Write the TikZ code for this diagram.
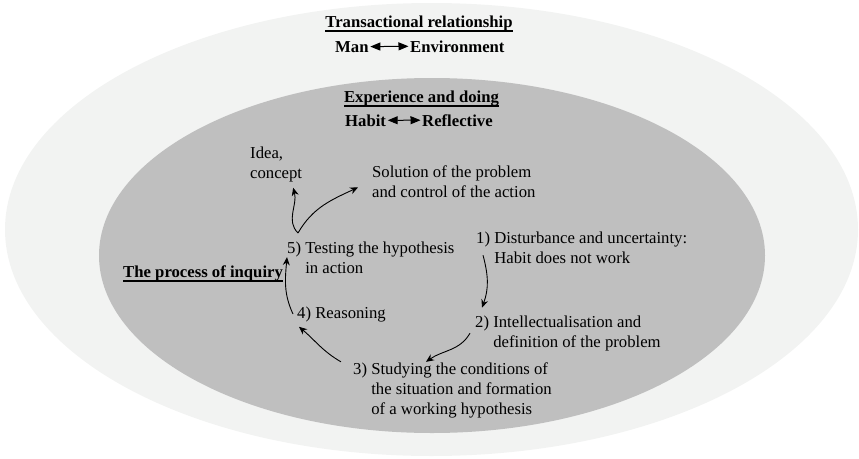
\documentclass[tikz,border=0pt]{standalone}
\usepackage{fontspec}
\setmainfont{Liberation Serif}
\usepackage{xcolor}
\usepackage{tikz}
\usetikzlibrary{arrows.meta}
\definecolor{outerfill}{HTML}{F2F3F2}
\definecolor{innerfill}{HTML}{BFBFBF}
\newcommand{\ulhead}[1]{\setbox0=\hbox{\bfseries #1}\rlap{\rule[-4.8pt]{\wd0}{1.6pt}}\box0}

\begin{document}
\begin{tikzpicture}[x=1pt,y=1pt,
          every node/.style={font=\fontsize{16.7}{19.6}\selectfont},
          txt/.style={inner sep=0pt,anchor=base west,align=left},
          bold/.style={inner sep=1.5pt,anchor=base west,font=\fontsize{16.7}{19.6}\selectfont\bfseries},
          cyc/.style={-{Stealth[length=8pt,width=7pt]},line width=0.9pt},
          dbl/.style={{Triangle[length=10pt,width=8pt]}-{Triangle[length=10pt,width=8pt]},line width=1pt}
        ]
        \useasboundingbox (0,0) rectangle (859,-458);
        \fill [outerfill] (431.5,-229.5) ellipse [x radius=426.5,y radius=226.5];
        \fill [innerfill] (432,-255.5) ellipse [x radius=333,y radius=177.5];

        \node [inner sep=0pt,anchor=base] (trans) at (419,-27) {\ulhead{Transactional relationship}};
        \node [bold] (man) at (333.5,-52) {Man};
        \node [bold] (env) at (408.5,-52) {Environment};
        \draw [dbl] (man.east) -- (env.west);

        \node [inner sep=0pt,anchor=base] (exp) at (421.5,-102) {\ulhead{Experience and doing}};
        \node [bold] (habit) at (343.5,-126) {Habit};
        \node [bold] (refl) at (420.5,-126) {Reflective};
        \draw [dbl] (habit.east) -- (refl.west);

        % multi-line nodes: base is the last line
        \node [txt] (idea) at (250,-178) {Idea,\\concept};
        \node [txt] (sol) at (372,-197) {Solution of the problem\\and control of the action};
        \node [txt] (five) at (287,-273) {5) Testing the hypothesis\\\phantom{5) }in action};
        \node [txt] (inq) at (123,-277) {\ulhead{The process of inquiry}};
        \node [txt] (one) at (476,-263) {1) Disturbance and uncertainty:\\\phantom{1) }Habit does not work};
        \node [txt] (two) at (475,-347) {2) Intellectualisation and\\\phantom{2) }definition of the problem};
        \node [txt] (four) at (297,-318) {4) Reasoning};
        \node [txt] (three) at (353,-414) {3) Studying the conditions of\\\phantom{3) }the situation and formation\\\phantom{3) }of a working hypothesis};

        \coordinate (fork) at (298,-233);
        \draw [cyc] (fork) to[out=135,in=-75] ([shift={(17,-6)}]idea.south);
        \draw [cyc] (fork) to[out=60,in=-155] ([shift={(-14,-6)}]sol.west);
        \draw [cyc] ([shift={(7,-6)}]one.west) to[out=-75,in=70] ([shift={(7,8)}]two.north west);
        \draw [cyc] ([xshift=-5]two.west) to[out=-120,in=35] ([shift={(73,1)}]three.north west);
        \draw [cyc] ([shift={(-12,1)}]three.north west) to[out=150,in=-40] ([shift={(2,-5)}]four.south west);
        \draw [cyc] ([xshift=-4]four.west) to[out=115,in=-95] ([yshift=2]five.west);
    \end{tikzpicture}
\end{document}
